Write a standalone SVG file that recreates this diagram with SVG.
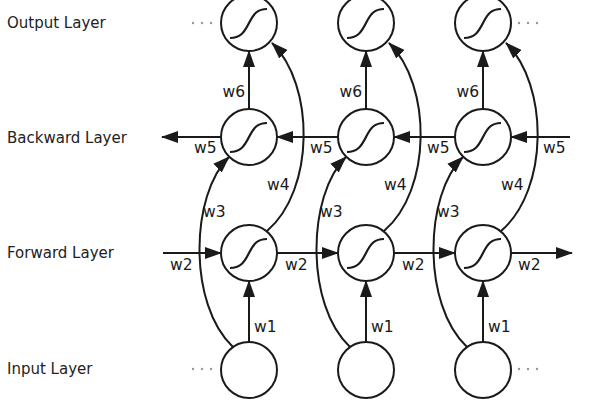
<svg xmlns="http://www.w3.org/2000/svg" width="609" height="407" viewBox="0 0 609 407">
<style>
.node{fill:#fff;stroke:#1a1a1a;stroke-width:2}
.sig{fill:none;stroke:#1a1a1a;stroke-width:2.2}
.edge{fill:none;stroke:#1a1a1a;stroke-width:2;marker-end:url(#arr)}
.lay{font-family:"DejaVu Sans",Verdana,sans-serif;font-size:15px;fill:#222}
.w{font-family:"DejaVu Sans",Verdana,sans-serif;font-size:15.5px;fill:#1a1a1a}
.dot{fill:#999}
</style>
<defs>
<marker id="arr" markerUnits="userSpaceOnUse" markerWidth="17" markerHeight="13" refX="16" refY="6.5" orient="auto">
<path d="M0,0.5 L17,6.5 L0,12.5 z" fill="#1a1a1a"/>
</marker>
<path id="s" class="sig" d="M-19,15 C-9,15 -5,10 0,0 C5,-10 9,-14 18,-14"/>
</defs>
<rect width="609" height="407" fill="#fff"/>
<g id="labels">
<text class="lay" x="7" y="28">Output Layer</text>
<text class="lay" x="7" y="143">Backward Layer</text>
<text class="lay" x="7" y="258">Forward Layer</text>
<text class="lay" x="7" y="374">Input Layer</text>
</g>
<g id="dots">
<circle class="dot" cx="193" cy="23" r="1.2"/><circle class="dot" cx="202" cy="23" r="1.2"/><circle class="dot" cx="211" cy="23" r="1.2"/>
<circle class="dot" cx="519" cy="23" r="1.2"/><circle class="dot" cx="528" cy="23" r="1.2"/><circle class="dot" cx="537" cy="23" r="1.2"/>
<circle class="dot" cx="193" cy="369" r="1.2"/><circle class="dot" cx="202" cy="369" r="1.2"/><circle class="dot" cx="211" cy="369" r="1.2"/>
<circle class="dot" cx="519" cy="369" r="1.2"/><circle class="dot" cx="528" cy="369" r="1.2"/><circle class="dot" cx="537" cy="369" r="1.2"/>
</g>
<g id="connectors">
<path class="edge" d="M163,253 H221"/>
<path class="edge" d="M277,253 H338"/>
<path class="edge" d="M394,253 H455"/>
<path class="edge" d="M511,253 H572"/>
<path class="edge" d="M570,137 H511"/>
<path class="edge" d="M455,137 H394"/>
<path class="edge" d="M338,137 H277"/>
<path class="edge" d="M221,137 H162"/>
<path class="edge" d="M249,342 V281"/>
<path class="edge" d="M366,342 V281"/>
<path class="edge" d="M483,342 V281"/>
<path class="edge" d="M249,109 V51"/>
<path class="edge" d="M366,109 V51"/>
<path class="edge" d="M483,109 V51"/>
<path class="edge" d="M233,347 C188,305 190,195 229,157"/>
<path class="edge" d="M350,347 C305,305 307,195 346,157"/>
<path class="edge" d="M467,347 C422,305 424,195 463,157"/>
<path class="edge" d="M267,231 C315,190 315,85 272,43"/>
<path class="edge" d="M384,231 C432,190 432,85 389,43"/>
<path class="edge" d="M501,231 C549,190 549,85 506,43"/>
</g>
<g id="weights">
<text class="w" x="245" y="97" text-anchor="end">w6</text>
<text class="w" x="362" y="97" text-anchor="end">w6</text>
<text class="w" x="479" y="97" text-anchor="end">w6</text>
<text class="w" x="194" y="153">w5</text>
<text class="w" x="310" y="153">w5</text>
<text class="w" x="427" y="153">w5</text>
<text class="w" x="543" y="153">w5</text>
<text class="w" x="267" y="190">w4</text>
<text class="w" x="384" y="190">w4</text>
<text class="w" x="501" y="190">w4</text>
<text class="w" x="203" y="217">w3</text>
<text class="w" x="320" y="217">w3</text>
<text class="w" x="437" y="217">w3</text>
<text class="w" x="170" y="270">w2</text>
<text class="w" x="285" y="270">w2</text>
<text class="w" x="402" y="270">w2</text>
<text class="w" x="518" y="270">w2</text>
<text class="w" x="254" y="332">w1</text>
<text class="w" x="371" y="332">w1</text>
<text class="w" x="488" y="332">w1</text>
</g>
<g id="out1"><circle class="node" cx="249" cy="23" r="28"/><use href="#s" x="249" y="23"/></g>
<g id="out2"><circle class="node" cx="366" cy="23" r="28"/><use href="#s" x="366" y="23"/></g>
<g id="out3"><circle class="node" cx="483" cy="23" r="28"/><use href="#s" x="483" y="23"/></g>
<g id="bwd1"><circle class="node" cx="249" cy="137" r="28"/><use href="#s" x="249" y="137"/></g>
<g id="bwd2"><circle class="node" cx="366" cy="137" r="28"/><use href="#s" x="366" y="137"/></g>
<g id="bwd3"><circle class="node" cx="483" cy="137" r="28"/><use href="#s" x="483" y="137"/></g>
<g id="fwd1"><circle class="node" cx="249" cy="253" r="28"/><use href="#s" x="249" y="253"/></g>
<g id="fwd2"><circle class="node" cx="366" cy="253" r="28"/><use href="#s" x="366" y="253"/></g>
<g id="fwd3"><circle class="node" cx="483" cy="253" r="28"/><use href="#s" x="483" y="253"/></g>
<g id="in1"><circle class="node" cx="249" cy="370" r="28"/></g>
<g id="in2"><circle class="node" cx="366" cy="370" r="28"/></g>
<g id="in3"><circle class="node" cx="483" cy="370" r="28"/></g>
</svg>
